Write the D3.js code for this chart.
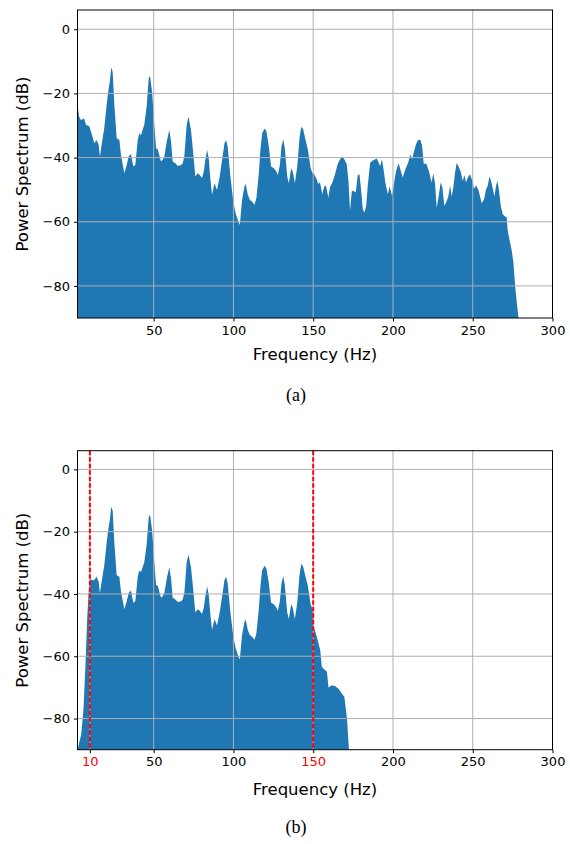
<!DOCTYPE html>
<html>
<head>
<meta charset="utf-8">
<script src="https://cdn.jsdelivr.net/npm/d3@7"></script>
<style>
  body { margin: 0; background: #fff; }
  svg { display: block; }
  .tick text { font-family: "DejaVu Sans", sans-serif; font-size: 13px; }
  .label { font-family: "DejaVu Sans", sans-serif; font-size: 16.5px; fill: #000; }
  .caption { font-family: "Liberation Serif", "Times New Roman", serif; font-size: 18px; fill: #000; }
</style>
</head>
<body>
<div id="chart"></div>
<script>
// full spectrum
var freqHz = [2.25, 3.3, 4.4, 6.5, 7.5, 9.6, 10.7, 12.8, 14.2, 15.5, 16.3, 18, 19, 20.5, 21.5, 22.6, 23.4, 24.3, 25.3,
  26.8, 28.5, 29.5, 31.6, 33.1, 34.3, 35.8, 37.2, 38.5, 40, 41, 42, 44.1, 45.6, 46.9, 47.7, 49, 50.4, 51.5, 52.5,
  54.6, 55.6, 56.7, 58.2, 59.8, 60.9, 61.9, 63.6, 65.1, 67.2, 68.2, 69.2, 70.7, 71.8, 73.4, 74.9, 76.1, 77.6, 78.9,
  80.3, 81.4, 82.4, 83.5, 84.5, 85.6, 86.6, 88.1, 89.7, 91.4, 92.9, 94.4, 95.4, 96.4, 98.1, 99.8, 101.3, 102.7, 104,
  105.4, 106.9, 107.7, 109, 110.3, 111.7, 113.2, 114.4, 115.9, 116.9, 118, 119.5, 120.7, 122.2, 123.6, 125.3, 127,
  127.8, 129.1, 130.1, 131.2, 132.2, 133.7, 134.7, 136.2, 137.2, 138.5, 140, 141.4, 142.5, 143.7, 145.2, 146.7, 148.4,
  149.6, 150.6, 152.1, 153.2, 154.2, 155.7, 156.9, 158, 159.5, 160.5, 162, 163.7, 165.3, 166.8, 168.3, 169.5, 171,
  172.1, 173.1, 174.2, 175.2, 176.7, 177.9, 179, 180, 181.1, 182.1, 183.2, 184.2, 185.7, 187.2, 188.9, 189.9, 191,
  192, 193.1, 194.1, 195.2, 196.8, 197.9, 199.4, 200.4, 201.9, 203.6, 204.6, 206.1, 207.8, 209.5, 210.9, 212, 213,
  214.5, 215.8, 217.2, 218.3, 219.3, 220.8, 222.5, 224.2, 225.3, 226.4, 227.4, 228.5, 229.9, 231, 232.2, 233.7,
  234.7, 235.8, 236.8, 237.9, 238.9, 240, 241, 242.5, 243.7, 244.8, 245.8, 246.9, 248.3, 249.8, 250.8, 252.1, 253.6,
  254.6, 255.6, 257.1, 258.4, 259.4, 260.5, 261.5, 262.6, 263.6, 264.6, 265.5, 266.5, 267.6, 268.8, 270.3, 271.3,
  271.8, 273, 274.5, 275.5, 276.6, 277.6, 278.7, 280];
var powerDb = [-23.6, -27.3, -28.3, -27.8, -29.8, -30.2, -31.9, -35.5, -34.5, -36, -39.7, -34, -30.9, -23.6, -19.5, -15.9, -11.9, -13.3, -23.1,
  -34, -34.5, -39.2, -44.9, -42.3, -39.7, -38.9, -42.8, -42.3, -34.5, -32.4, -33, -29.8, -24.1, -15.3, -14.6, -19.5, -29.8, -37.1, -37.4,
  -41.2, -40.7, -39.7, -35, -31.4, -35, -41.2, -41.8, -42.6, -42.3, -41.8, -39.7, -29.8, -27.3, -31.4, -39.2, -45.9, -44.9, -45.4,
  -46.4, -44.4, -40.7, -37.6, -40.2, -46.9, -51.6, -48, -50.1, -45.9, -40.7, -35.5, -34.5, -36.6, -45.9, -53.2, -57.3, -59.4, -61,
  -53.2, -49, -48.2, -51.6, -53.2, -53.7, -54.7, -52.6, -44.9, -37.6, -32.4, -30.9, -31.9, -36.6, -42.8, -43.3, -44.4,
  -45.4, -42.3, -36.6, -34.3, -37.1, -45.9, -48, -43.3, -44.4, -48, -42.8, -34, -30.4, -31.2, -34.5, -37.6, -43.3,
  -44.9, -45.2, -46.7, -48.3, -47.6, -51.4, -49, -48.8, -52.5, -49.3, -47.8, -45.2, -42.1, -40.5, -39.7, -40.5, -42.1,
  -47.3, -56.6, -50.4, -50.4, -50.9, -45.5, -45.2, -49.9, -56.1, -57.1, -55.1, -48.8, -41.6, -41, -40.5, -40.3, -41.6,
  -42.6, -40.5, -43.6, -47.8, -51.4, -49, -51.9, -48.8, -44.2, -41.8, -43.6, -46.2, -43.6, -41.6, -39, -40.5, -38.4,
  -35.8, -34.5, -34.5, -36.4, -42.1, -41.8, -44.2, -47.8, -44.9, -48.3, -55.6, -52.5, -47.8, -49.3, -55.1, -53.5,
  -52.1, -48.7, -52.1, -49, -44.7, -41.6, -42.6, -44.5, -47.3, -45.5, -47.8, -46.2, -45.2, -47.3, -49.7, -48.7, -50.1,
  -52.1, -54.2, -53, -49.9, -48.8, -45.9, -47.3, -49.7, -52.1, -48.8, -47.3, -50.4, -55.1, -57.7, -58.4, -58.7,
  -62.3, -65.5, -69.1, -72.7, -80, -85.2, -90, -96];

// band-pass edges; the pass band reuses the spectrum above
var passBand = [12, 150];
var lowEdgeHz = [2.25, 4.6, 6, 7.3, 8.3, 9.3, 10.2, 11.4];
var lowEdgeDb = [-90, -85, -77, -62, -48, -39, -35, -35.6];
var highEdgeHz = [150.4, 152.3, 154.4, 155.4, 156.5, 158.6, 159.6, 161.7, 163.8, 165.9, 168, 169.5, 171.2, 172.4, 174];
var highEdgeDb = [-50.6, -53.8, -58, -63.4, -64, -65, -70, -69.3, -69.6, -70.4, -72, -73, -80, -90, -96];

var xTicksA = [50, 100, 150, 200, 250, 300];
var xTicksB = [10, 50, 100, 150, 200, 250, 300];
var cutoffHz = [10, 150];
var yTicks = [0, -20, -40, -60, -80];

var width = 570, height = 844;
var left = 77.5, right = 552.5;

var svg = d3.select('#chart').append('svg').attr('width', width).attr('height', height);

function zip(xs, ys) {
  return xs.map(function (f, i) { return [f, ys[i]]; });
}

var spectrum = zip(freqHz, powerDb);
var filtered = zip(lowEdgeHz, lowEdgeDb)
  .concat(spectrum.filter(function (d) { return d[0] >= passBand[0] && d[0] <= passBand[1]; }))
  .concat(zip(highEdgeHz, highEdgeDb));

function panel(id, top, bottom, points, xTicks, marks, caption, labelGap) {
  var x = d3.scaleLinear().domain([2.25, 300]).range([left, right]);
  var y = d3.scaleLinear().domain([6, -90]).range([top, bottom]);
  var g = svg.append('g');

  g.append('clipPath').attr('id', 'clip' + id)
    .append('rect').attr('x', left).attr('y', top).attr('width', right - left).attr('height', bottom - top);

  var area = d3.area()
    .x(function (d) { return x(d[0]); })
    .y0(bottom)
    .y1(function (d) { return y(d[1]); });

  g.append('path').datum(points)
    .attr('clip-path', 'url(#clip' + id + ')')
    .attr('fill', '#1f77b4')
    .attr('d', area);

  // grid over the fill
  g.selectAll('.vgrid').data(xTicks).enter().append('line')
    .attr('x1', x).attr('x2', x).attr('y1', top).attr('y2', bottom)
    .attr('stroke', '#b0b0b0').attr('stroke-width', 1);
  g.selectAll('.hgrid').data(yTicks).enter().append('line')
    .attr('x1', left).attr('x2', right).attr('y1', y).attr('y2', y)
    .attr('stroke', '#b0b0b0').attr('stroke-width', 1);

  g.selectAll('.cut').data(marks).enter().append('line')
    .attr('x1', x).attr('x2', x).attr('y1', top).attr('y2', bottom)
    .attr('stroke', '#ff0000').attr('stroke-width', 2).attr('stroke-dasharray', '4.5,2');

  var xAxis = g.append('g').attr('transform', 'translate(0,' + bottom + ')')
    .call(d3.axisBottom(x).tickValues(xTicks).tickSize(3.5).tickPadding(4).tickFormat(d3.format('d')));
  xAxis.select('.domain').remove();
  xAxis.selectAll('.tick line').style('stroke', '#000');
  xAxis.selectAll('.tick text').style('fill', function (d) { return marks.indexOf(d) >= 0 ? '#ff0000' : '#000'; });

  var yAxis = g.append('g').attr('transform', 'translate(' + left + ',0)')
    .call(d3.axisLeft(y).tickValues(yTicks).tickSize(3.5).tickPadding(4)
      .tickFormat(function (d) { return d < 0 ? '\u2212' + Math.abs(d) : d; }));
  yAxis.select('.domain').remove();
  yAxis.selectAll('.tick text').style('fill', '#000');

  g.append('rect').attr('x', left).attr('y', top).attr('width', right - left).attr('height', bottom - top)
    .attr('fill', 'none').attr('stroke', '#000').attr('stroke-width', 1);

  g.append('text').attr('class', 'label').attr('text-anchor', 'middle')
    .attr('x', (left + right) / 2).attr('y', bottom + labelGap).text('Frequency (Hz)');
  g.append('text').attr('class', 'label').attr('text-anchor', 'middle')
    .attr('transform', 'translate(28,' + (top + bottom) / 2 + ') rotate(-90)').text('Power Spectrum (dB)');
  g.append('text').attr('class', 'caption').attr('text-anchor', 'middle')
    .attr('x', 296).attr('y', bottom + 83).text(caption);
}

panel('a', 10, 318, spectrum, xTicksA, [], '(a)', 42);
panel('b', 450.7, 749.7, filtered, xTicksB, cutoffHz, '(b)', 45);
</script>
</body>
</html>
